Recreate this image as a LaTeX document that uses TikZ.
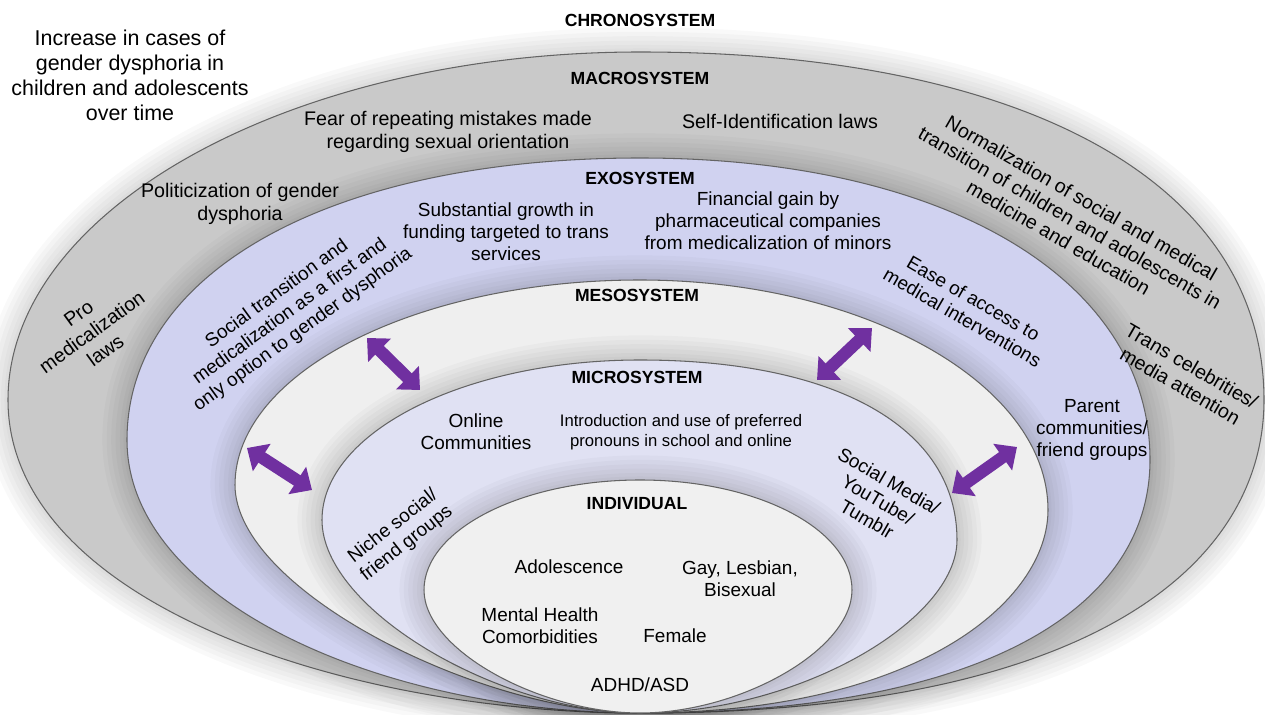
\documentclass[tikz,border=0pt]{standalone}
\usepackage{fontspec}
\setmainfont{Liberation Sans}
\usetikzlibrary{arrows.meta}

\definecolor{macrogray}{RGB}{201,201,201}
\definecolor{exoblue}{RGB}{208,210,240}
\definecolor{mesogray}{RGB}{239,239,239}
\definecolor{microblue}{RGB}{224,225,243}
\definecolor{indivgray}{RGB}{240,240,240}
\definecolor{rimgray}{RGB}{100,100,100}
\definecolor{linkpurple}{RGB}{112,48,160}

% one nested system: soft shadow first, then the filled shape
% #2 = left point, #3 = top point, #4 = right point, #5..#12 = control points
\newcommand{\systemlayer}[2]{%
  \foreach \hw in {28,23,18,13,8,4}{%
    \draw[black, draw opacity=0.022, line width=\hw pt] #2;}
  \filldraw[fill=#1, draw=rimgray, line width=0.6pt] #2;
}

\tikzset{
  sysname/.style={font=\fontsize{10}{12}\selectfont\bfseries, inner sep=0pt},
  bigtext/.style={font=\fontsize{12.2}{14.2}\selectfont, align=center, inner sep=0pt},
  factor/.style={font=\fontsize{11.2}{13}\selectfont, align=center, inner sep=0pt},
  infactor/.style={font=\fontsize{10.8}{12.5}\selectfont, align=center, inner sep=0pt},
  smallfactor/.style={font=\fontsize{9.5}{11.3}\selectfont, align=center, inner sep=0pt},
  link/.style={linkpurple, line width=7pt,
    {Triangle[length=10pt,width=18pt]}-{Triangle[length=10pt,width=18pt]}}
}

\begin{document}
\begin{tikzpicture}[x=0.02cm, y=-0.02cm]
    \useasboundingbox (0,0) rectangle (1265,715);

    % Nested systems, outside in; all meet at the bottom tip
    \coordinate (tip) at (640,713);
    \systemlayer{macrogray}{(tip) .. controls (340,713) and (8,600) .. (8,400)
        .. controls (8,209) and (292,52) .. (640,52)
        .. controls (1020,52) and (1264,180) .. (1264,400)
        .. controls (1264,560) and (1100,713) .. (tip) -- cycle}
    \systemlayer{exoblue}{(tip) .. controls (380,713) and (127,600) .. (127,440)
        .. controls (127,271) and (332,158) .. (640,158)
        .. controls (946,158) and (1150,279) .. (1150,460)
        .. controls (1150,600) and (1000,713) .. (tip) -- cycle}
    \systemlayer{mesogray}{(tip) .. controls (480,713) and (235,590) .. (235,485)
        .. controls (235,372) and (417,280) .. (640,280)
        .. controls (864,280) and (1048,384) .. (1048,510)
        .. controls (1048,600) and (920,713) .. (tip) -- cycle}
    \systemlayer{microblue}{(tip) .. controls (500,713) and (322,610) .. (322,520)
        .. controls (322,432) and (465,360) .. (640,360)
        .. controls (837,360) and (957,428) .. (957,540)
        .. controls (957,620) and (800,713) .. (tip) -- cycle}
    \systemlayer{indivgray}{(tip) .. controls (540,713) and (424,650) .. (424,590)
        .. controls (424,530) and (521,480) .. (640,480)
        .. controls (759,480) and (852,530) .. (852,590)
        .. controls (852,650) and (740,713) .. (tip) -- cycle}

    % System names
    \node[sysname] (chrono) at (640,20) {CHRONOSYSTEM};
    \node[sysname] (macro) at (640,78) {MACROSYSTEM};
    \node[sysname] (exo) at (640,178) {EXOSYSTEM};
    \node[sysname] (meso) at (637,295) {MESOSYSTEM};
    \node[sysname] (micro) at (637,377) {MICROSYSTEM};
    \node[sysname] (indiv) at (637,504) {INDIVIDUAL};

    % Chronosystem
    \node[bigtext] (overtime) at (130,75) {Increase in cases of\\gender dysphoria in\\children and adolescents\\over time};

    % Macrosystem
    \node[factor] (fear) at (448,132) {Fear of repeating mistakes made\\regarding sexual orientation};
    \node[factor] (selfid) at (780,121) {Self-Identification laws};
    \node[factor] (politic) at (240,204) {Politicization of gender\\dysphoria};
    \node[factor, rotate=36] (prolaws) at (92,332) {Pro\\medicalization\\laws};
    \node[factor, rotate=-30] (normal) at (1070,218) {Normalization of social and medical\\transition of children and adolescents in\\medicine and education};
    \node[factor, rotate=-30] (celebs) at (1186,376) {Trans celebrities/\\media attention};

    % Exosystem
    \node[infactor] (funding) at (506,232) {Substantial growth in\\funding targeted to trans\\services};
    \node[infactor] (pharma) at (768,221) {Financial gain by\\pharmaceutical companies\\from medicalization of minors};
    \node[infactor, rotate=36] (firstopt) at (290,312) {Social transition and\\medicalization as a first and\\only option to gender dysphoria};
    \node[infactor, rotate=-30] (access) at (968,308) {Ease of access to\\medical interventions};

    % Mesosystem
    \node[infactor] (parents) at (1092,430) {Parent\\communities/\\friend groups};

    % Microsystem
    \node[infactor] (online) at (476,432) {Online\\Communities};
    \node[smallfactor] (pronouns) at (681,432) {Introduction and use of preferred\\pronouns in school and online};
    \node[infactor, rotate=-30] (socialmedia) at (878,500) {Social Media/\\YouTube/\\Tumblr};
    \node[infactor, rotate=38] (niche) at (400,535) {Niche social/\\friend groups};

    % Individual
    \node[infactor] (adol) at (569,567) {Adolescence};
    \node[infactor] (lgb) at (740,579) {Gay, Lesbian,\\Bisexual};
    \node[infactor] (mental) at (540,626) {Mental Health\\Comorbidities};
    \node[infactor] (female) at (675,636) {Female};
    \node[infactor] (adhd) at (640,685) {ADHD/ASD};

    % Interactions between layers
    \coordinate (ulA) at (367,338);
    \coordinate (ulB) at (420,390);
    \coordinate (lA) at (247,448);
    \coordinate (lB) at (312,490);
    \coordinate (urA) at (817,380);
    \coordinate (urB) at (872,328);
    \coordinate (rA) at (952,493);
    \coordinate (rB) at (1017,447);
    \draw[link] (ulA) -- (ulB);
    \draw[link] (lA) -- (lB);
    \draw[link] (urA) -- (urB);
    \draw[link] (rA) -- (rB);
\end{tikzpicture}
\end{document}
